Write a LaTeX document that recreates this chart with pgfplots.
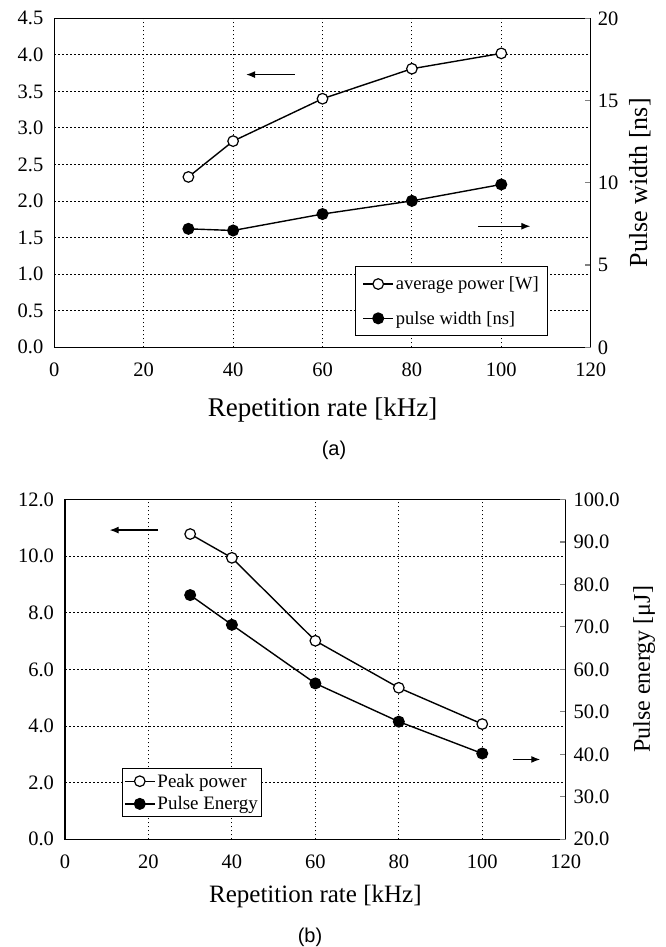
\documentclass[border=0pt]{standalone}
\usepackage{fontspec}
\setmainfont{Liberation Serif}
\newfontfamily\arialfont{Liberation Sans}
\usepackage{pgfplots}
\pgfplotsset{compat=1.18}
\usetikzlibrary{arrows.meta}

% panel (a): repetition rate, average power [W], pulse width [ns]
\pgfplotstableread{
x pow width
30 2.33 7.2
40 2.82 7.1
60 3.40 8.1
80 3.81 8.9
100 4.02 9.9
}\tabA
% panel (b): repetition rate, peak power, pulse energy [uJ]
\pgfplotstableread{
x peak energy
30 10.78 77.5
40 9.94 70.5
60 7.01 56.7
80 5.35 47.7
100 4.07 40.2
}\tabB

\tikzset{arr/.style={-{Latex[length=9bp,width=7bp]}, line width=1.2bp}}

\pgfplotsset{
  base/.style={scale only axis, clip=false, xmin=0, xmax=120,
    tick label style={font=\fontsize{20.5bp}{24bp}\selectfont,
      /pgf/number format/assume math mode=true},
    axis line style={line width=1.1bp},
    legend image code/.code={\draw[mark repeat=2,mark phase=2,##1]
      plot coordinates {(0bp,0bp) (15bp,0bp) (30bp,0bp)};},
    legend cell align=left,
  },
  leftax/.style={base, xtick={0,20,40,60,80,100,120},
    xtick pos=bottom, ytick pos=left, major tick length=0pt,
    grid=major, grid style={black, line width=1bp, dash pattern=on 1.5bp off 2.5bp},
    xticklabel style={yshift=-12bp},
    yticklabel style={xshift=-7.5bp, /pgf/number format/fixed,
      /pgf/number format/fixed zerofill, /pgf/number format/precision=1},
  },
  rightax/.style={base, axis x line=none, axis y line*=right,
    tick align=inside, major tick length=5.5bp, major tick style={line width=1.1bp},
  },
  openser/.style={black, line width=1.4bp, mark=*, mark size=5.3bp,
    mark options={fill=white, line width=1.2bp}},
  fillser/.style={black, line width=1.4bp, mark=*, mark size=5.3bp,
    mark options={fill=black}},
}

\begin{document}
\begin{tikzpicture}
\path[use as bounding box] (0,0) rectangle (666bp,947bp);

% ---- (a) ----
\begin{axis}[leftax, at={(54.3bp,599.7bp)}, anchor=south west,
  width=536.4bp, height=329bp,
  ymin=0, ymax=4.5, ytick={0,0.5,1,1.5,2,2.5,3,3.5,4,4.5},
  xlabel={Repetition rate [kHz]},
  xlabel style={font=\fontsize{27bp}{30bp}\selectfont,
    at={(axis description cs:0.5,-0.21)}, anchor=base},
]
\addplot[openser] table[x=x,y=pow]{\tabA};
\draw[arr] (axis cs:53.8,3.73) -- (axis cs:42.9,3.73);
\draw[arr] (axis cs:94.8,1.656) -- (axis cs:106.5,1.656);
\end{axis}
\begin{axis}[rightax, at={(54.3bp,599.7bp)}, anchor=south west,
  width=536.4bp, height=329bp,
  ymin=0, ymax=20, ytick={0,5,10,15,20},
  yticklabel style={xshift=3.6bp},
  ylabel={Pulse width [ns]},
  ylabel style={font=\fontsize{26bp}{30bp}\selectfont,
    at={(axis description cs:1.105,0.5)}, anchor=base},
  legend style={at={(0.5606,0.0343)}, anchor=south west, draw=black,
    line width=1bp, font=\fontsize{18.5bp}{21bp}\selectfont,
    inner xsep=7bp, inner ysep=8bp, row sep=16bp},
]
\addlegendimage{openser}
\addlegendentry{average power [W]}
\addplot[fillser] table[x=x,y=width]{\tabA};
\addlegendentry{pulse width [ns]}
\end{axis}
\node[font=\arialfont\fontsize{20bp}{24bp}\selectfont] at (334bp,497bp) {(a)};

% ---- (b) ----
\begin{axis}[leftax, at={(65bp,107.7bp)}, anchor=south west,
  width=500.7bp, height=339.8bp,
  ymin=0, ymax=12, ytick={0,2,4,6,8,10,12},
  xlabel={Repetition rate [kHz]},
  xlabel style={font=\fontsize{25bp}{28bp}\selectfont,
    at={(axis description cs:0.5,-0.187)}, anchor=base},
]
\addplot[openser] table[x=x,y=peak]{\tabB};
\draw[arr] (axis cs:22.3,10.92) -- (axis cs:10.7,10.92);
\draw[arr] (axis cs:107.3,2.82) -- (axis cs:113.9,2.82);
\end{axis}
\begin{axis}[rightax, at={(65bp,107.7bp)}, anchor=south west,
  width=500.7bp, height=339.8bp,
  ymin=20, ymax=100, ytick={20,30,40,50,60,70,80,90,100},
  yticklabel style={xshift=4.3bp, /pgf/number format/fixed,
    /pgf/number format/fixed zerofill, /pgf/number format/precision=1},
  ylabel={Pulse energy [μJ]},
  ylabel style={font=\fontsize{24bp}{28bp}\selectfont,
    at={(axis description cs:1.168,0.5)}, anchor=base},
  legend style={at={(0.113,0.0665)}, anchor=south west, draw=black,
    line width=1bp, font=\fontsize{19bp}{22bp}\selectfont,
    inner xsep=2bp, inner ysep=3bp, row sep=4bp},
]
\addlegendimage{openser}
\addlegendentry{Peak power}
\addplot[fillser] table[x=x,y=energy]{\tabB};
\addlegendentry{Pulse Energy}
\end{axis}
\node[font=\arialfont\fontsize{20bp}{24bp}\selectfont] at (310bp,10bp) {(b)};
\end{tikzpicture}
\end{document}
